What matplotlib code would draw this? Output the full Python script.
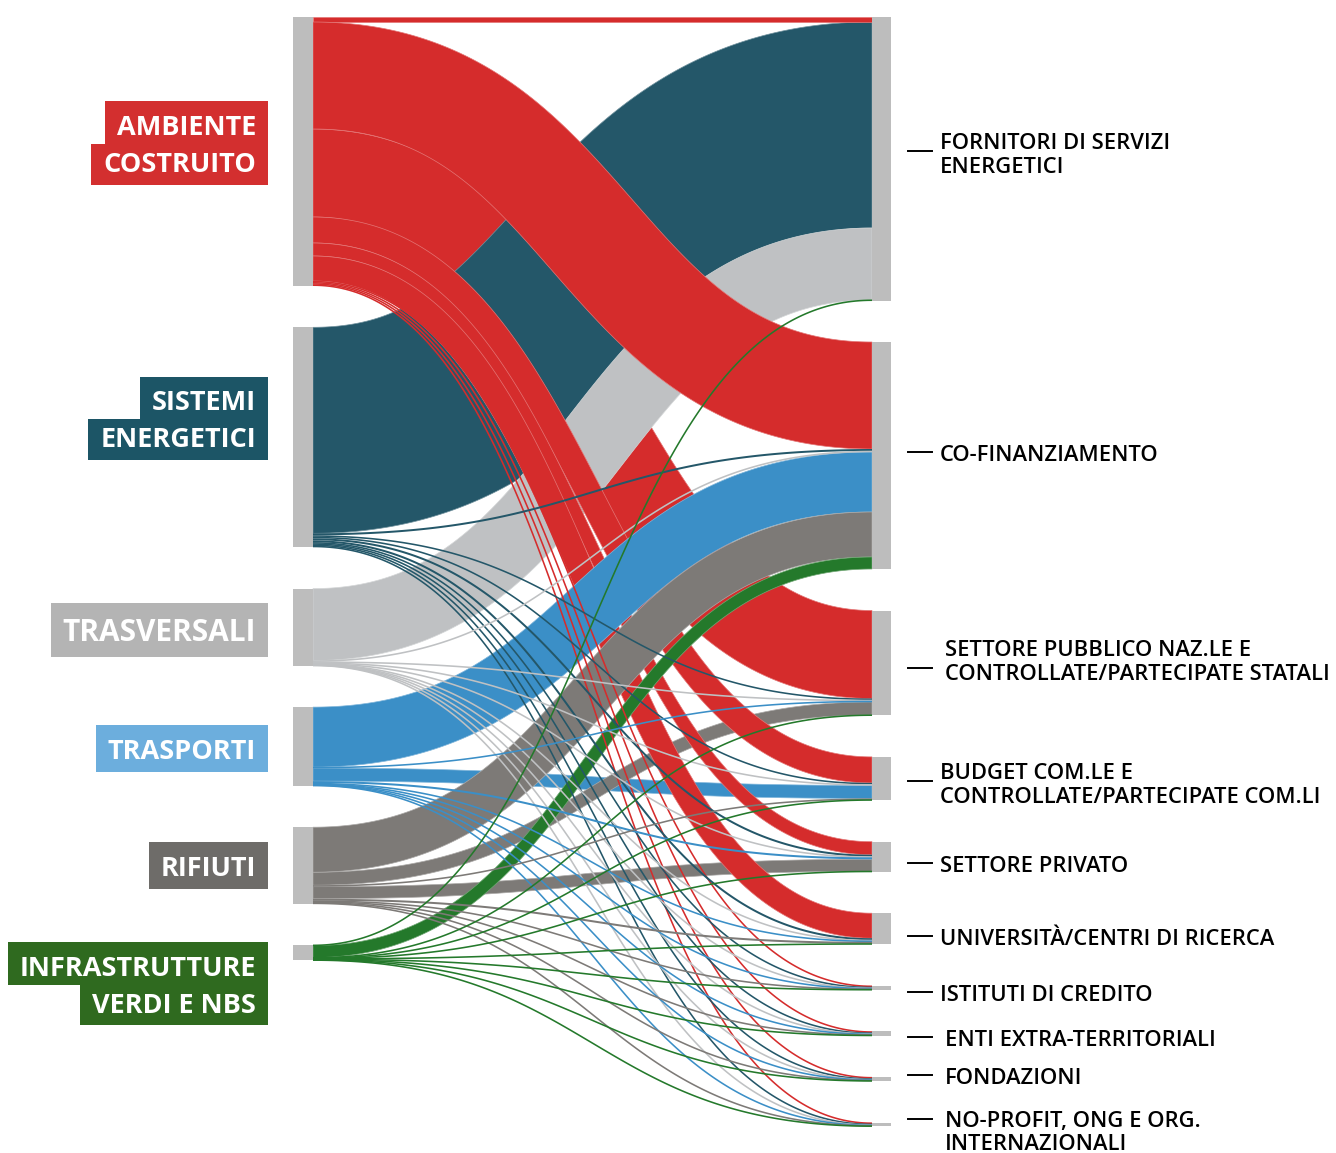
import numpy as np
import matplotlib
matplotlib.use("Agg")
import matplotlib.pyplot as plt
from matplotlib.patches import Rectangle, Polygon
from matplotlib.colors import to_rgb

# --- dati ---------------------------------------------------------------
source_names = ["AMBIENTE\nCOSTRUITO", "SISTEMI\nENERGETICI", "TRASVERSALI",
                "TRASPORTI", "RIFIUTI", "INFRASTRUTTURE\nVERDI E NBS"]
target_names = ["FORNITORI DI SERVIZI\nENERGETICI", "CO-FINANZIAMENTO",
                "SETTORE PUBBLICO NAZ.LE E\nCONTROLLATE/PARTECIPATE STATALI",
                "BUDGET COM.LE E\nCONTROLLATE/PARTECIPATE COM.LI",
                "SETTORE PRIVATO", "UNIVERSITÀ/CENTRI DI RICERCA",
                "ISTITUTI DI CREDITO", "ENTI EXTRA-TERRITORIALI", "FONDAZIONI",
                "NO-PROFIT, ONG E ORG.\nINTERNAZIONALI"]

# flussi di ogni ambito verso le fonti (stesso ordine di target_names)
ambiente = [5, 107, 88, 26, 13, 25, 1.2, 1.2, 1.2, 1.2]
sistemi = [206, 2, 1.5, 1.5, 2, 2, 1.2, 1.2, 1.2, 1.2]
trasversali = [72, 1, 1, 1, 0.6, 0.6, 0.2, 0.2, 0.2, 0.2]
trasporti = [0, 60, 1, 13, 2, 1, 0.5, 0.5, 0.3, 0.3]
rifiuti = [0, 45, 13, 1.5, 12, 2, 0.8, 0.8, 0.8, 0.5]
infrastrutture = [0.5, 12, 0.4, 0.3, 0.4, 0.4, 0.3, 0.3, 0.3, 0.3]

flows = np.array([ambiente, sistemi, trasversali, trasporti, rifiuti, infrastrutture])

link_colors = ["#d52c2c", "#245769", "#bfc1c3", "#3b8fc7", "#7d7a77", "#24792b"]
label_colors = ["#d32f2f", "#1c5566", "#b4b4b4", "#6caedd", "#6e6c69", "#2f6a1f"]
node_color = "#bdbdbd"

# ordine di disegno delle bande principali (sorgente, target); le altre sopra
draw_order = [(0, 2), (1, 0), (2, 0), (0, 0), (0, 1), (3, 3), (4, 4), (4, 2),
              (0, 3), (0, 4), (0, 5), (3, 1), (4, 1), (5, 1)]

# --- layout ---------------------------------------------------------------
W, H = 1336, 1153
TOP = 17
PAD = 41.5
LX0, LX1 = 293, 313
RX0, RX1 = 872, 891

fig = plt.figure(figsize=(W / 100, H / 100), dpi=100)
ax = fig.add_axes([0, 0, 1, 1])
ax.set_xlim(0, W)
ax.set_ylim(H, 0)
ax.axis("off")
plt.rcParams['font.family'] = ['Open Sans', 'DejaVu Sans']


def stack(totals):
    ys, y = [], TOP
    for t in totals:
        ys.append(y)
        y += t + PAD
    return ys


src_tot = flows.sum(axis=1)
tgt_tot = flows.sum(axis=0)
src_y = stack(src_tot)
tgt_y = stack(tgt_tot)

# offsets dentro ai nodi
src_off = np.zeros_like(flows)
tgt_off = np.zeros_like(flows)
for i in range(flows.shape[0]):
    src_off[i] = src_y[i] + np.concatenate([[0], np.cumsum(flows[i])[:-1]])
for j in range(flows.shape[1]):
    tgt_off[:, j] = tgt_y[j] + np.concatenate([[0], np.cumsum(flows[:, j])[:-1]])

t = np.linspace(0, 1, 200)
xm = (LX1 + RX0) / 2


def lighter(c, f=0.35):
    r = np.array(to_rgb(c))
    return tuple(r + (1 - r) * f)


def draw_link(i, j):
    v = flows[i, j]
    if v <= 0:
        return
    y0 = src_off[i, j] + v / 2
    y1 = tgt_off[i, j] + v / 2
    x = (1 - t) ** 3 * LX1 + 3 * (1 - t) ** 2 * t * xm + 3 * (1 - t) * t ** 2 * xm + t ** 3 * RX0
    y = (1 - t) ** 3 * y0 + 3 * (1 - t) ** 2 * t * y0 + 3 * (1 - t) * t ** 2 * y1 + t ** 3 * y1
    dx = 3 * (1 - t) ** 2 * (xm - LX1) + 3 * t ** 2 * (RX0 - xm)
    dy = 6 * (1 - t) * t * (y1 - y0)
    n = np.hypot(dx, dy)
    nx, ny = -dy / n, dx / n
    w = max(v, 1.6) / 2
    top = np.column_stack([x + nx * w, y + ny * w])
    bot = np.column_stack([x - nx * w, y - ny * w])
    pts = np.vstack([top, bot[::-1]])
    if v > 3:
        ax.add_patch(Polygon(pts, closed=True, facecolor=link_colors[i],
                             edgecolor=lighter(link_colors[i]), lw=0.5))
    else:
        ax.add_patch(Polygon(pts, closed=True, facecolor=link_colors[i],
                             edgecolor="none"))


for i, j in draw_order:
    draw_link(i, j)
for i in range(flows.shape[0]):
    for j in range(flows.shape[1]):
        if (i, j) not in draw_order:
            draw_link(i, j)

# nodi
for i, y0 in enumerate(src_y):
    ax.add_patch(Rectangle((LX0, y0), LX1 - LX0, src_tot[i], color=node_color, lw=0))
for j, y0 in enumerate(tgt_y):
    ax.add_patch(Rectangle((RX0, y0), RX1 - RX0, max(tgt_tot[j], 2.5), color=node_color, lw=0))

# --- etichette a sinistra -------------------------------------------------
left_lines_y = [[125, 162], [400, 437], [630], [749], [866], [966, 1003]]
left_box = [(101, 185), (377, 460), (603, 657), (725, 772), (842, 889), (942, 1025)]
left_size = [19.5, 19.5, 21.5, 19.5, 19.5, 19.5]
fig.canvas.draw()
renderer = fig.canvas.get_renderer()
for k, name in enumerate(source_names):
    lines = name.split("\n")
    ys = left_lines_y[k]
    top, bot = left_box[k]
    cap = left_size[k] * 100 / 72 * 0.714
    for n, (line, yc) in enumerate(zip(lines, ys)):
        txt = ax.text(256, yc + cap / 2, line, ha="right", va="baseline",
                      fontsize=left_size[k], fontweight="bold", color="white", zorder=5)
        bb = txt.get_window_extent(renderer).transformed(ax.transData.inverted())
        x_left = min(bb.x0, bb.x1) - 12
        y_top = top if n == 0 else (ys[n - 1] + yc) / 2
        y_bot = bot if n == len(lines) - 1 else (ys[n + 1] + yc) / 2
        ax.add_patch(Rectangle((x_left, y_top), 268 - x_left, y_bot - y_top,
                               color=label_colors[k], lw=0, zorder=4))

# --- etichette a destra ---------------------------------------------------
right_lines_y = [[141, 165], [453], [648, 672], [771, 795], [864], [937],
                 [993], [1038], [1076], [1119, 1142]]
right_tick_y = [151, 452, 668, 781, 863, 936, 992, 1037, 1075, 1119]
right_text_x = [940, 940, 945, 940, 940, 940, 940, 945, 945, 945]
RSIZE = 15.8
rcap = RSIZE * 100 / 72 * 0.714
for j, name in enumerate(target_names):
    ax.plot([908, 932], [right_tick_y[j]] * 2, color="black", lw=1.4)
    for line, yc in zip(name.split("\n"), right_lines_y[j]):
        ax.text(right_text_x[j], yc + rcap / 2, line, ha="left", va="baseline",
                fontsize=RSIZE, fontweight="semibold", color="black")

fig.savefig("out.png", dpi=100)
